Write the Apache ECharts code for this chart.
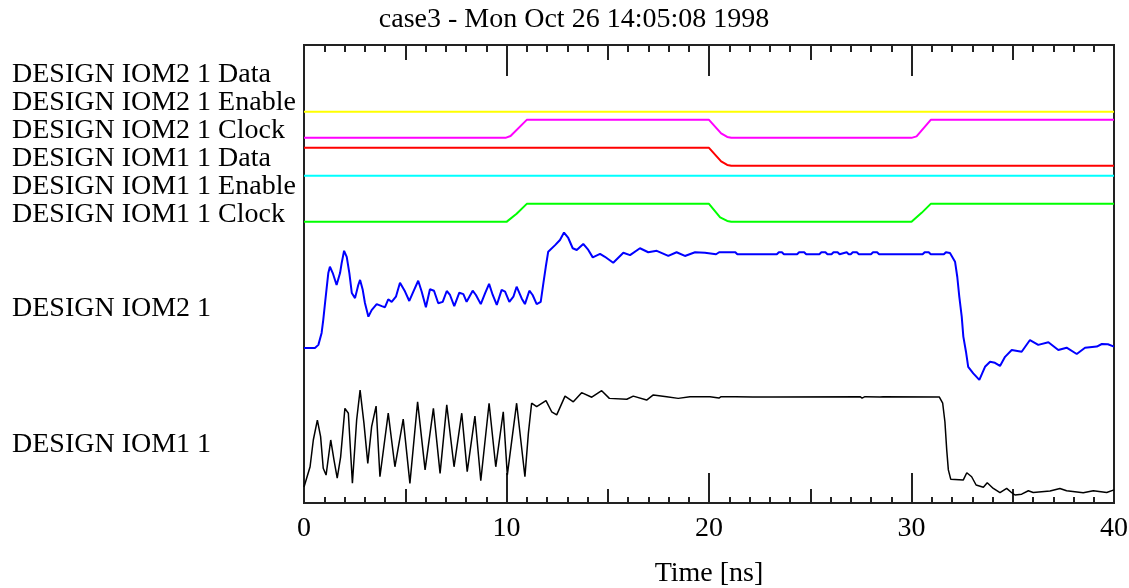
<!DOCTYPE html>
<html>
<head>
<meta charset="utf-8">
<script src="https://cdn.jsdelivr.net/npm/echarts@6/dist/echarts.min.js"></script>
<style>
  html, body { margin: 0; padding: 0; background: #fff; }
  #chart { width: 1129px; height: 588px; }
</style>
</head>
<body>
<div id="chart"></div>
<script>
// ---- text ----
const chartTitle = 'case3 - Mon Oct 26 14:05:08 1998';
const timeAxisName = 'Time [ns]';
const timeRange = [0, 40];
const digitalNames = [
  'DESIGN IOM2 1 Data',
  'DESIGN IOM2 1 Enable',
  'DESIGN IOM2 1 Clock',
  'DESIGN IOM1 1 Data',
  'DESIGN IOM1 1 Enable',
  'DESIGN IOM1 1 Clock'
];
const analogNames = ['DESIGN IOM2 1', 'DESIGN IOM1 1'];

// ---- digital waveforms: [time ns, logic level] ----
const iom2Data = [];
const iom2Enable = [[0, -0.1], [40, -0.1]];
const iom2Clock = [[0, 0], [9.95, 0], [10.2, 0.1], [11.0, 1], [20, 1], [20.6, 0.25], [20.9, 0.05], [21.1, 0],
                   [30.0, 0], [30.25, 0.08], [30.95, 1], [40, 1]];
const iom1Data = [[0, 1], [20, 1], [20.6, 0.25], [20.9, 0.05], [21.1, 0], [40, 0]];
const iom1Enable = [[0, 1], [40, 1]];
const iom1Clock = [[0, 0], [10.0, 0], [10.5, 0.45], [11.0, 1], [20, 1], [20.55, 0.25], [20.9, 0.05], [21.1, 0],
                   [30.0, 0], [30.5, 0.5], [30.95, 1], [40, 1]];

// ---- analog waveforms: [time ns, volts] ----
const iom2Analog = [
  [0, 0.0], [0.54, 0.0], [0.71, 0.11], [0.87, 0.53], [0.95, 0.98], [1.04, 1.58], [1.12, 2.11], [1.20, 2.63],
  [1.28, 2.85], [1.42, 2.63], [1.61, 2.21], [1.78, 2.63], [1.86, 2.98], [1.98, 3.41], [2.11, 3.20], [2.24, 2.63],
  [2.36, 1.93], [2.52, 1.75], [2.68, 2.21], [2.77, 2.39], [2.90, 2.04], [3.01, 1.58], [3.18, 1.10], [3.34, 1.33],
  [3.59, 1.54], [3.84, 1.47], [4.00, 1.43], [4.16, 1.71], [4.33, 1.62], [4.54, 1.80], [4.74, 2.29], [4.99, 1.98],
  [5.20, 1.65], [5.40, 1.98], [5.64, 2.36], [5.81, 1.98], [6.02, 1.43], [6.22, 2.06], [6.42, 2.01], [6.63, 1.57],
  [6.85, 1.62], [7.05, 2.00], [7.21, 1.86], [7.42, 1.47], [7.67, 1.94], [7.87, 1.89], [8.03, 1.62], [8.33, 2.01],
  [8.49, 1.86], [8.73, 1.54], [8.94, 1.92], [9.14, 2.25], [9.32, 1.86], [9.52, 1.51], [9.76, 2.04], [9.93, 1.98],
  [10.14, 1.62], [10.34, 1.80], [10.50, 2.15], [10.75, 1.74], [10.91, 1.54], [11.13, 2.01], [11.29, 1.86],
  [11.49, 1.54], [11.69, 1.62], [11.82, 2.27], [11.94, 2.85], [12.06, 3.38], [12.40, 3.61], [12.64, 3.79],
  [12.84, 4.05], [13.05, 3.86], [13.27, 3.50], [13.47, 3.44], [13.79, 3.65], [14.04, 3.44], [14.26, 3.18],
  [14.62, 3.30], [14.86, 3.20], [15.27, 2.99], [15.77, 3.34], [16.10, 3.26], [16.59, 3.50], [17.00, 3.36],
  [17.42, 3.41], [17.99, 3.23], [18.40, 3.36], [18.81, 3.23], [19.31, 3.36], [19.80, 3.34],
  [20.35, 3.29], [20.5, 3.36], [21.3, 3.36], [21.4, 3.29], [23.35, 3.29], [23.45, 3.36], [23.6, 3.36],
  [23.7, 3.29], [24.35, 3.29], [24.45, 3.36], [24.7, 3.36], [24.8, 3.29], [25.45, 3.29], [25.55, 3.36],
  [25.75, 3.36], [25.85, 3.29], [26.05, 3.29], [26.15, 3.36], [26.35, 3.36], [26.45, 3.29], [26.5, 3.36],
  [26.8, 3.36], [26.9, 3.29], [27.0, 3.29], [27.1, 3.36], [27.3, 3.36], [27.4, 3.29], [28.0, 3.29],
  [28.1, 3.36], [28.3, 3.36], [28.4, 3.29], [30.55, 3.29], [30.65, 3.36], [30.85, 3.36], [30.95, 3.29],
  [31.6, 3.29], [31.7, 3.36], [31.9, 3.33],
  [32.15, 3.03], [32.26, 2.50], [32.36, 1.80], [32.48, 1.10], [32.56, 0.40], [32.69, -0.13], [32.80, -0.66],
  [33.05, -0.89], [33.35, -1.12], [33.63, -0.66], [33.88, -0.48], [34.12, -0.52], [34.37, -0.63], [34.62, -0.31],
  [34.95, -0.07], [35.44, -0.13], [35.85, 0.28], [36.26, 0.11], [36.76, 0.20], [37.25, -0.07], [37.66, 0.01],
  [38.16, -0.21], [38.57, 0.01], [39.15, 0.05], [39.40, 0.14], [39.70, 0.13], [40, 0.05]
];
const iom1Analog = [
  [0, 0.14], [0.05, 0.21], [0.30, 0.85], [0.46, 1.79], [0.66, 2.49], [0.82, 1.91], [0.95, 0.80], [1.09, 0.56],
  [1.32, 1.79], [1.48, 1.09], [1.64, 0.45], [1.81, 1.20], [2.02, 2.90], [2.19, 2.73], [2.39, 0.27], [2.60, 2.49],
  [2.77, 3.54], [2.96, 2.38], [3.15, 0.97], [3.34, 2.26], [3.56, 2.98], [3.75, 0.50], [4.16, 2.73], [4.49, 0.85],
  [4.90, 2.52], [5.23, 0.27], [5.61, 3.13], [5.98, 0.74], [6.39, 2.90], [6.72, 0.62], [7.05, 3.02], [7.41, 0.85],
  [7.79, 2.73], [8.06, 0.68], [8.44, 2.63], [8.73, 0.36], [9.14, 3.08], [9.47, 0.85], [9.84, 2.78], [10.04, 0.56],
  [10.50, 3.08], [10.91, 0.50], [11.08, 2.02], [11.24, 3.08], [11.49, 2.96], [11.95, 3.17], [12.23, 2.78],
  [12.48, 2.67], [12.89, 3.33], [13.30, 3.13], [13.71, 3.45], [14.21, 3.29], [14.70, 3.52], [15.08, 3.25],
  [15.94, 3.22], [16.26, 3.33], [16.92, 3.19], [17.25, 3.37], [17.91, 3.31], [18.48, 3.25], [19.06, 3.31],
  [20.05, 3.31], [20.49, 3.26], [20.6, 3.31], [21.1, 3.31], [21.19, 3.26], [21.3, 3.31], [22.17, 3.30],
  [23.16, 3.30], [27.46, 3.31], [27.56, 3.26], [27.7, 3.31], [28.44, 3.30], [28.5, 3.26], [28.6, 3.31],
  [31.37, 3.30], [31.54, 3.08], [31.65, 2.43], [31.74, 1.44], [31.82, 0.74], [31.94, 0.41], [32.56, 0.39],
  [32.73, 0.64], [32.97, 0.50], [33.19, 0.21], [33.55, 0.13], [33.74, 0.29], [34.04, 0.09], [34.37, -0.06],
  [34.70, 0.09], [34.95, -0.06], [35.11, -0.14], [35.44, -0.11], [35.77, 0.01], [36.01, -0.05], [36.84, 0.00],
  [37.33, 0.09], [37.66, 0.01], [38.48, -0.06], [38.98, 0.01], [39.64, -0.05], [40, 0.04]
];

const digitalWaves = [iom2Data, iom2Enable, iom2Clock, iom1Data, iom1Enable, iom1Clock];
const digitalColors = ['#ffffff', '#ffff00', '#ff00ff', '#ff0000', '#00ffff', '#00ff00'];
const analogWaves = [iom2Analog, iom1Analog];
const analogColors = ['#0000ff', '#000000'];

// ---- layout ----
const FONT = '"Liberation Serif", "Times New Roman", serif';
const plot = { left: 304, top: 45, width: 810, height: 458 };
const rowTop = 72.85, rowStep = 28, rowHalf = 18;      // digital rows: level 0..1 spans 18 px
const labelDy = 2;                                     // baseline nudge for the row labels
const analogZero = [348, 491], pxPerVolt = 28.5;       // analog rows: 0 V baseline, scale
const analogMin = -2, analogMax = 5;
const analogLabelY = [307, 443];
const inkColor = '#222';

const grids = [], xAxes = [], yAxes = [], series = [], graphics = [];

// frame grid with the time scale, ticks at both edges
grids.push({ left: plot.left, top: plot.top, width: plot.width, height: plot.height,
             outerBoundsMode: 'none', containLabel: false,
             show: true, borderColor: inkColor, borderWidth: 2, backgroundColor: 'transparent' });
yAxes.push({ gridIndex: 0, type: 'value', show: false, min: 0, max: 1 });
const tickLine = { color: inkColor, width: 2 };
function frameAxis(position, interval, len, minorLen, withLabels) {
  const ax = {
    gridIndex: 0, type: 'value', position: position, min: timeRange[0], max: timeRange[1], interval: interval,
    axisLine: { show: false }, splitLine: { show: false },
    axisTick: { show: true, inside: true, length: len, lineStyle: tickLine },
    axisLabel: { show: false }
  };
  if (minorLen) ax.minorTick = { show: true, splitNumber: 5, length: minorLen, lineStyle: tickLine };
  if (withLabels) {
    ax.axisLabel = { show: true, color: '#000', fontFamily: FONT, fontSize: 28, margin: 12 };
    ax.name = timeAxisName;
    ax.nameLocation = 'middle';
    ax.nameGap = 57;
    ax.nameTextStyle = { color: '#000', fontFamily: FONT, fontSize: 28 };
  }
  return ax;
}
xAxes.push(frameAxis('bottom', 10, 30, 0, true));
xAxes.push(frameAxis('bottom', 5, 14, 6, false));
xAxes.push(frameAxis('top', 10, 31, 0, false));
xAxes.push(frameAxis('top', 5, 15, 7, false));

function addTrace(top, height, yMin, yMax, data, color, width) {
  const g = grids.length;
  grids.push({ left: plot.left, width: plot.width, top: top, height: height, outerBoundsMode: 'none' });
  xAxes.push({ gridIndex: g, type: 'value', show: false, min: timeRange[0], max: timeRange[1] });
  yAxes.push({ gridIndex: g, type: 'value', show: false, min: yMin, max: yMax });
  if (data.length) {
    series.push({
      type: 'line', xAxisIndex: xAxes.length - 1, yAxisIndex: yAxes.length - 1,
      data: data, showSymbol: false, symbol: 'none', clip: false,
      lineStyle: { color: color, width: width }, silent: true
    });
  }
}

// digital rows
digitalWaves.forEach((wave, i) => {
  const center = rowTop + rowStep * i;
  addTrace(center - rowHalf, rowHalf * 2, -0.5, 1.5, wave, digitalColors[i], 2);
  graphics.push({ type: 'text', x: 12, y: center + labelDy,
    style: { text: digitalNames[i], fill: '#000', font: '28px ' + FONT, verticalAlign: 'middle' } });
});

// analog rows
analogWaves.forEach((wave, i) => {
  const top = analogZero[i] - analogMax * pxPerVolt;
  addTrace(top, (analogMax - analogMin) * pxPerVolt, analogMin, analogMax, wave, analogColors[i], i === 0 ? 2 : 1.5);
  graphics.push({ type: 'text', x: 12, y: analogLabelY[i] + labelDy,
    style: { text: analogNames[i], fill: '#000', font: '28px ' + FONT, verticalAlign: 'middle' } });
});

graphics.push({ type: 'text', x: 574, y: 20,
  style: { text: chartTitle, fill: '#000', font: '28px ' + FONT, align: 'center', verticalAlign: 'middle' } });

const chart = echarts.init(document.getElementById('chart'), null, { renderer: 'canvas' });
chart.setOption({
  backgroundColor: '#ffffff',
  animation: false,
  grid: grids,
  xAxis: xAxes,
  yAxis: yAxes,
  series: series,
  graphic: graphics
});
</script>
</body>
</html>
